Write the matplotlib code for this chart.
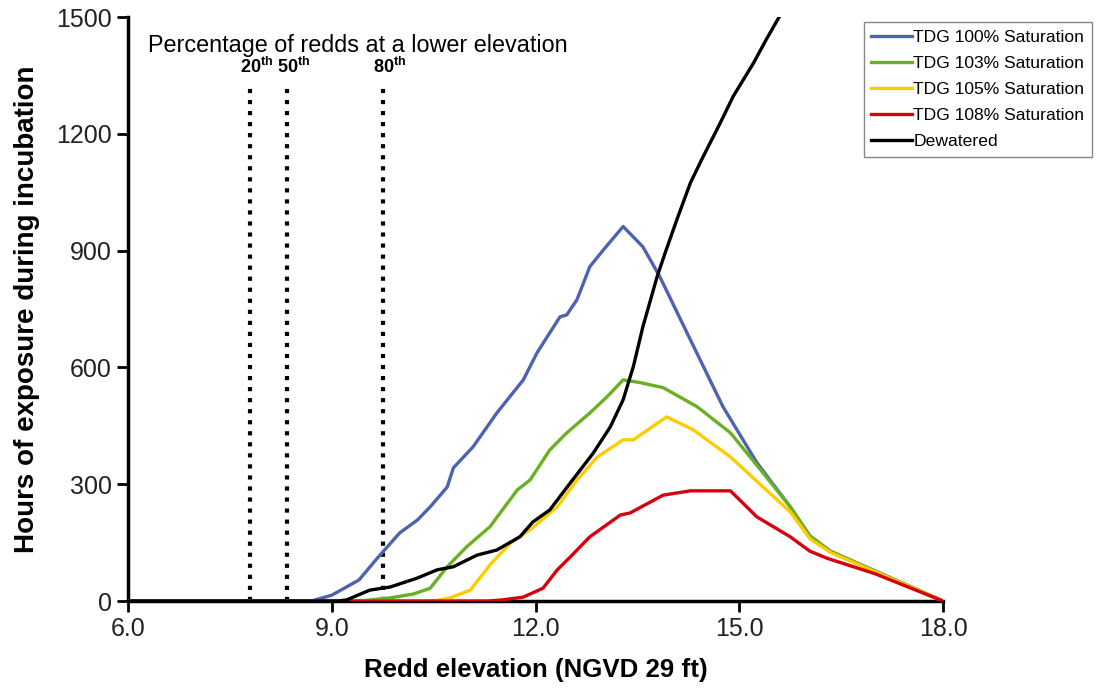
import matplotlib
matplotlib.use("Agg")
import matplotlib.pyplot as plt

# redd elevation (ft) vs hours of exposure
blue_x = [6.0, 8.7, 9.0, 9.4, 9.67, 10.0, 10.26, 10.45, 10.7, 10.79, 11.08, 11.43, 11.82, 12.02,
          12.36, 12.46, 12.61, 12.8, 13.0, 13.29, 13.58, 13.83, 14.28, 14.76, 15.26, 15.75, 16.04,
          16.34, 17.0, 18.0]
blue_y = [0, 0, 15, 54, 110, 175, 208, 242, 293, 342, 396, 483, 568, 637, 730, 735, 774, 859, 902,
          962, 910, 833, 671, 499, 355, 242, 167, 128, 77, 0]

green_x = [6.0, 9.4, 9.86, 10.2, 10.45, 10.7, 10.99, 11.33, 11.73, 11.92, 12.21, 12.46, 12.8, 13.05,
           13.29, 13.54, 13.88, 14.38, 14.87, 15.35, 15.75, 16.04, 16.34, 17.0, 18.0]
green_y = [0, 0, 8, 18, 33, 88, 140, 191, 285, 311, 388, 432, 483, 524, 568, 561, 548, 499, 432,
           329, 242, 167, 128, 77, 0]

yellow_x = [6.0, 10.5, 10.74, 11.04, 11.33, 11.63, 11.92, 12.32, 12.61, 12.91, 13.29, 13.44, 13.93,
            14.32, 14.87, 15.35, 15.75, 16.04, 16.34, 17.0, 18.0]
yellow_y = [0, 0, 8, 28, 93, 149, 183, 242, 311, 370, 414, 414, 473, 440, 370, 293, 229, 160, 125,
            75, 0]

red_x = [6.0, 11.3, 11.52, 11.82, 12.11, 12.32, 12.51, 12.8, 13.25, 13.39, 13.88, 14.28, 14.87,
         15.26, 15.75, 16.04, 16.29, 17.0, 18.0]
red_y = [0, 0, 3, 10, 33, 80, 113, 165, 221, 226, 272, 283, 283, 216, 165, 128, 110, 70, 0]

black_x = [6.0, 9.1, 9.22, 9.56, 9.86, 10.26, 10.55, 10.79, 11.14, 11.43, 11.77, 11.96, 12.21,
           12.51, 12.85, 13.10, 13.29, 13.44, 13.58, 13.79, 13.91, 14.08, 14.28, 14.47, 14.72,
           14.91, 15.21, 15.40, 15.58, 15.7]
black_y = [0, 0, 3, 28, 36, 59, 80, 88, 118, 131, 165, 203, 234, 303, 380, 447, 517, 602, 704, 833,
           895, 979, 1074, 1142, 1228, 1296, 1382, 1443, 1498, 1530]

series_labels = ["TDG 100% Saturation", "TDG 103% Saturation", "TDG 105% Saturation",
                 "TDG 108% Saturation", "Dewatered"]
series_colors = ["#4F62B0", "#6AB023", "#FFCC00", "#D7000F", "#000000"]

pct_x = [7.80, 8.34, 9.76]
pct_labels = ["20", "50", "80"]

x_ticks = [6.0, 9.0, 12.0, 15.0, 18.0]
y_ticks = [0, 300, 600, 900, 1200, 1500]

plt.rcParams['font.family'] = ['Liberation Sans', 'DejaVu Sans']
plt.rcParams['mathtext.fontset'] = 'custom'
plt.rcParams['mathtext.rm'] = 'Liberation Sans'
plt.rcParams['mathtext.bf'] = 'Liberation Sans:bold'

fig = plt.figure(figsize=(11, 7), dpi=100)
ax = fig.add_axes([0.1164, 0.1414, 0.7409, 0.8343])

xs = [blue_x, green_x, yellow_x, red_x, black_x]
ys = [blue_y, green_y, yellow_y, red_y, black_y]
for x, y, c, lab in zip(xs, ys, series_colors, series_labels):
    ax.plot(x, y, color=c, lw=2.4, label=lab, zorder=3)

# percentile lines
ax.vlines(pct_x, 0, 1330, colors='k', linestyles=':', linewidth=3, zorder=2)
for px, lab in zip(pct_x, pct_labels):
    ax.text(px - 0.15, 1345, r'$\mathbf{' + lab + '^{th}}$', fontsize=13,
            ha='left', va='bottom')
ax.text(6.29, 1398, "Percentage of redds at a lower elevation", fontsize=16.8,
        ha='left', va='bottom')

ax.set_xlim(6.0, 18.0)
ax.set_ylim(0, 1500)
ax.set_xticks(x_ticks)
ax.set_xticklabels(["%.1f" % v for v in x_ticks])
ax.set_yticks(y_ticks)
ax.tick_params(labelsize=18, direction='out', length=8, width=2, colors='k', labelcolor='#222222')

for s in ['top', 'right']:
    ax.spines[s].set_visible(False)
for s in ['left', 'bottom']:
    ax.spines[s].set_linewidth(2.5)

ax.set_xlabel("Redd elevation (NGVD 29 ft)", fontsize=18.6, fontweight='bold', labelpad=12)
ax.set_ylabel("Hours of exposure during incubation", fontsize=20, fontweight='bold', labelpad=12)

leg = ax.legend(loc='upper left', bbox_to_anchor=(0.785, 0.969), bbox_transform=fig.transFigure,
                fontsize=12.6, frameon=True, fancybox=False, framealpha=1, edgecolor='#888888',
                handlelength=2.3, handletextpad=0.1, labelspacing=0.62, borderpad=0.45,
                borderaxespad=0)
leg.get_frame().set_linewidth(1.0)

fig.savefig("out.png", dpi=100)
